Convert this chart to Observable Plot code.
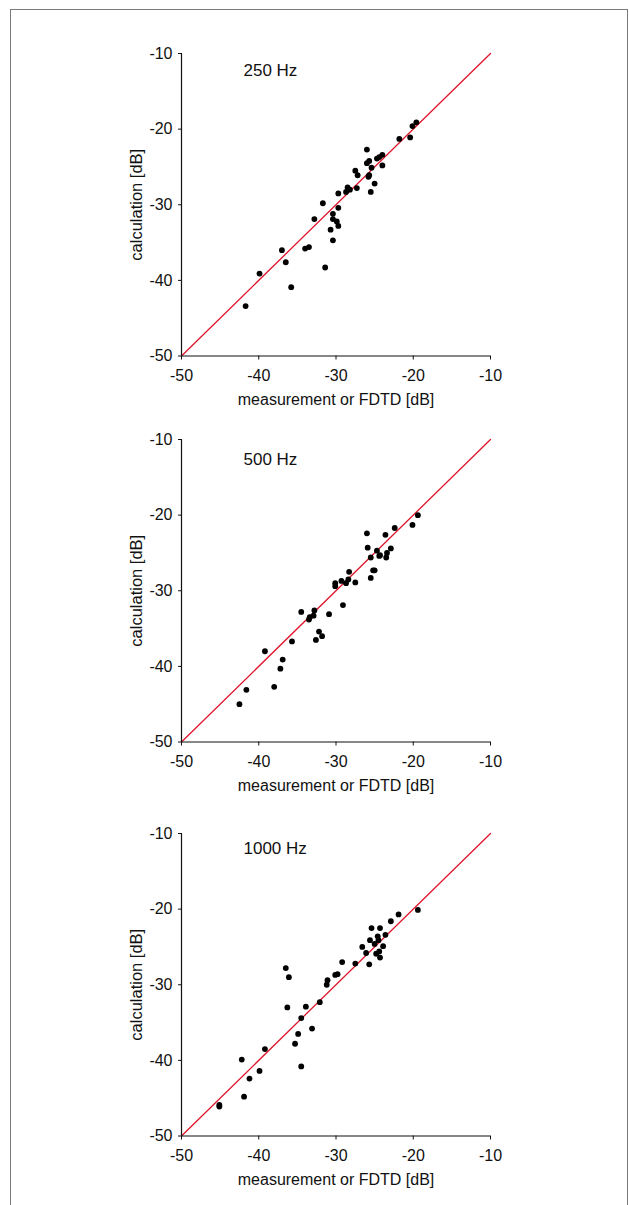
<!DOCTYPE html>
<html><head><meta charset="utf-8">
<script src="https://cdn.jsdelivr.net/npm/d3@7"></script>
<script src="https://cdn.jsdelivr.net/npm/@observablehq/plot@0.6"></script>
<style>
body{margin:0;background:#fff;}
#wrap{position:relative;width:629px;height:1205px;overflow:hidden;background:#fff;font-family:"Liberation Sans",Arial,sans-serif;}
#border{position:absolute;left:10px;top:9px;width:616px;height:1230px;border:1.5px solid #7a7a7a;}
.panel{position:absolute;left:0;}
</style></head><body><div id="wrap"><div id="border"></div></div>
<script>
const ticks = [-50, -40, -30, -20, -10];
const diagonal = [-50, -10];
const xTitle = "measurement or FDTD [dB]";
const yTitle = "calculation [dB]";
const labels = ["250 Hz", "500 Hz", "1000 Hz"];

const x250 = [-41.7,-39.9,-37.0,-36.5,-35.8,-34.0,-33.5,-32.8,-31.7,-31.4,-30.4,-30.4,-29.9,-30.7,-29.7,-30.4,-29.7,-29.7,-28.7,-28.5,-28.2,-27.3,-27.5,-27.2,-26.0,-26.0,-25.7,-25.8,-25.7,-25.4,-25.5,-25.0,-24.7,-24.4,-24.0,-24.0,-21.8,-20.4,-20.1,-19.6];
const y250 = [-43.4,-39.1,-36.0,-37.6,-40.9,-35.8,-35.6,-31.9,-29.8,-38.3,-31.2,-31.9,-32.2,-33.3,-32.8,-34.7,-30.4,-28.5,-28.3,-27.7,-28.0,-27.8,-25.5,-26.1,-22.7,-24.5,-24.2,-26.3,-26.1,-25.1,-28.3,-27.2,-23.9,-23.7,-23.4,-24.8,-21.3,-21.1,-19.6,-19.1];

const x500 = [-42.5,-41.6,-39.2,-38.0,-37.2,-36.9,-35.7,-34.5,-33.5,-33.4,-32.9,-32.8,-32.6,-32.2,-31.8,-30.9,-30.1,-30.1,-29.1,-29.3,-28.7,-28.4,-28.3,-27.5,-26.0,-25.9,-25.5,-25.5,-25.2,-25.0,-24.7,-24.4,-24.3,-23.6,-23.5,-23.4,-22.9,-22.4,-20.1,-19.4];
const y500 = [-45.0,-43.1,-38.0,-42.7,-40.3,-39.1,-36.7,-32.8,-33.8,-33.5,-33.3,-32.6,-36.5,-35.4,-36.0,-33.1,-29.0,-29.4,-31.9,-28.7,-29.0,-28.5,-27.5,-28.9,-22.4,-24.3,-25.6,-28.3,-27.3,-27.3,-24.7,-25.4,-25.3,-22.6,-25.6,-25.0,-24.4,-21.7,-21.3,-20.0];

const x1000 = [-45.1,-45.1,-42.2,-41.9,-41.2,-39.9,-39.2,-36.5,-36.1,-36.3,-35.3,-34.9,-34.5,-34.5,-33.9,-33.1,-32.1,-31.2,-31.1,-30.1,-29.8,-29.2,-27.5,-26.6,-26.1,-25.7,-25.6,-25.4,-25.0,-24.8,-24.6,-24.5,-24.4,-24.3,-24.3,-23.9,-23.6,-22.9,-21.9,-19.4];
const y1000 = [-45.9,-46.1,-39.9,-44.8,-42.4,-41.4,-38.5,-27.8,-29.0,-33.0,-37.8,-36.5,-40.8,-34.4,-32.9,-35.8,-32.3,-30.0,-29.4,-28.7,-28.6,-27.0,-27.2,-25.0,-25.8,-27.3,-24.1,-22.5,-24.6,-25.9,-23.6,-24.1,-25.6,-26.4,-22.5,-24.9,-23.4,-21.6,-20.7,-20.1];

const panels = [
  {label: labels[0], xs: x250, ys: y250, top: 53.3, labelDy: 10},
  {label: labels[1], xs: x500, ys: y500, top: 439.3, labelDy: 13},
  {label: labels[2], xs: x1000, ys: y1000, top: 833.3, labelDy: 8}
];

const red = "#e0142a";
const font = "'Liberation Sans', Arial, sans-serif";
const wrap = document.getElementById("wrap");
const mTop = 20, mBottom = 70;

for (const p of panels) {
  const idx = d3.range(p.xs.length);
  const chart = Plot.plot({
    width: 629,
    height: mTop + 302.5 + mBottom,
    marginLeft: 181,
    marginRight: 139,
    marginTop: mTop,
    marginBottom: mBottom,
    x: {domain: [-50, -10]},
    y: {domain: [-50, -10]},
    style: {fontFamily: font, fontSize: "16px", color: "#111", background: "transparent", overflow: "visible"},
    marks: [
      Plot.line(diagonal, {x: d => d, y: d => d, stroke: red, strokeWidth: 1.3}),
      Plot.ruleX([-50], {stroke: "#111", strokeWidth: 1.2}),
      Plot.ruleY([-50], {stroke: "#111", strokeWidth: 1.2}),
      Plot.axisX(ticks, {tickSize: 4, tickPadding: 10, tickFormat: d => String(d), label: null, fontSize: 16, stroke: "#111"}),
      Plot.axisY(ticks, {tickSize: 3, tickPadding: 6, tickFormat: d => String(d), label: null, fontSize: 16, stroke: "#111"}),
      Plot.dot(idx, {x: i => p.xs[i], y: i => p.ys[i], r: 2.9, fill: "#000", stroke: null}),
      Plot.text([p.label], {frameAnchor: "top-left", dx: 62, dy: p.labelDy, textAnchor: "start", lineAnchor: "top", fontSize: 17, fill: "#111"}),
      Plot.text([xTitle], {frameAnchor: "bottom", dy: 38, lineAnchor: "top", textAnchor: "middle", fontSize: 16, fill: "#111"}),
      Plot.text([yTitle], {frameAnchor: "left", dx: -45, rotate: -90, textAnchor: "middle", lineAnchor: "middle", fontSize: 16.5, fill: "#111"})
    ]
  });
  chart.classList.add("panel");
  chart.style.top = (p.top - mTop) + "px";
  wrap.appendChild(chart);
}
</script>
</body></html>
